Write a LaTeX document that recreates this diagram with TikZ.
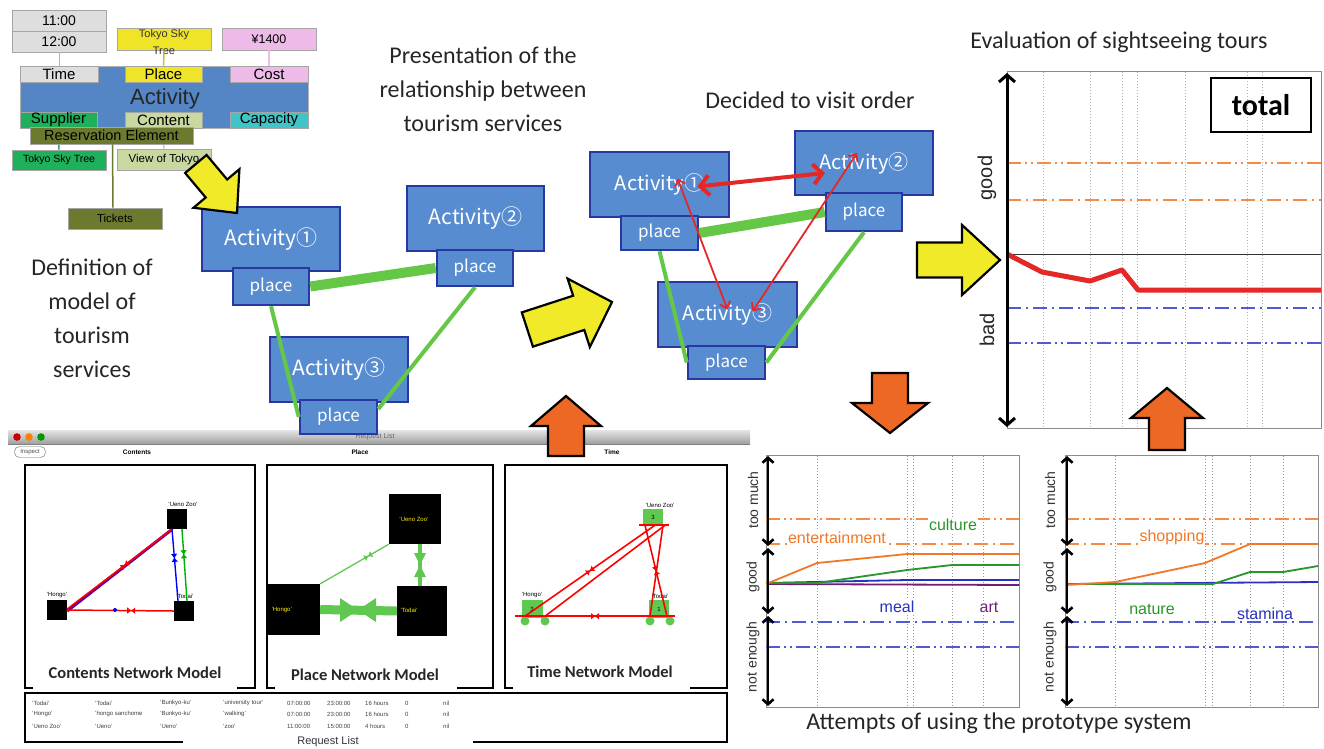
\documentclass[tikz,border=0pt]{standalone}
\usepackage{fontspec}
\setmainfont{Liberation Sans}
\newfontfamily\calfont{Carlito}
\newfontfamily\jpfont{Noto Sans CJK JP}
\usetikzlibrary{arrows.meta,decorations.markings}

\definecolor{actfill}{RGB}{88,140,208}
\definecolor{actborder}{RGB}{40,56,160}
\definecolor{barblue}{RGB}{84,134,198}
\definecolor{lgray}{RGB}{222,222,222}
\definecolor{myyellow}{RGB}{240,228,40}
\definecolor{mypink}{RGB}{238,186,232}
\definecolor{mygreen}{RGB}{30,176,90}
\definecolor{lgreen}{RGB}{200,216,160}
\definecolor{myteal}{RGB}{64,196,200}
\definecolor{myolive}{RGB}{108,122,48}
\definecolor{arrowyellow}{RGB}{240,234,40}
\definecolor{arroworange}{RGB}{236,104,36}
\definecolor{linegreen}{RGB}{100,200,70}
\definecolor{redarr}{RGB}{228,40,40}
\definecolor{corange}{RGB}{240,120,40}
\definecolor{cgreen}{RGB}{40,150,40}
\definecolor{cblue}{RGB}{40,50,190}
\definecolor{cpurple}{RGB}{110,30,120}
\definecolor{ltorange}{RGB}{244,140,70}
\definecolor{ltblue}{RGB}{80,90,210}
\definecolor{tgreen}{RGB}{96,200,80}

\newcommand{\blockarrow}[8]{%
  \begin{scope}[shift={(#1,#2)},rotate=#3]
    \draw[line width=2.2pt,line join=miter,fill=#8]
      (0,0) -- (-#7,#6/2) -- (-#7,#5/2) -- (-#4,#5/2) -- (-#4,-#5/2)
      -- (-#7,-#5/2) -- (-#7,-#6/2) -- cycle;
  \end{scope}}

\tikzset{
  actbox/.style={draw=actborder, fill=actfill, line width=2.5pt, text=white,
    inner sep=0pt, font=\jpfont\fontsize{21}{24}\selectfont},
  placebox/.style={actbox, font=\jpfont\fontsize{17}{20}\selectfont},
  mbox/.style={draw=black!35, line width=0.8pt, inner sep=0pt,
    font=\fontsize{15}{16}\selectfont},
  title/.style={font=\calfont\fontsize{24}{34}\selectfont, align=center, text=black!85},
  glink/.style={linegreen, line width=4pt},
  gthick/.style={linegreen, line width=10pt},
  dashdot/.style={line width=1.3pt, dash pattern=on 14pt off 5pt on 2pt off 5pt},
  dashdotdot/.style={line width=1.3pt, dash pattern=on 14pt off 4pt on 2pt off 4pt on 2pt off 4pt},
  grid/.style={black!40, line width=0.8pt, dash pattern=on 1pt off 2pt},
  axarrow/.style={line width=2.6pt, {Straight Barb[length=5pt,width=11pt]}-{Straight Barb[length=5pt,width=11pt]}},
  clabel/.style={font=\fontsize{16}{18}\selectfont, fill=white, inner sep=1pt},
  axlabel/.style={font=\fontsize{14}{16}\selectfont, rotate=90, text=black!80},
  frame/.style={line width=2.5pt},
  sq/.style={fill=black, inner sep=0pt},
  tiny/.style={font=\fontsize{6}{7}\selectfont},
  netname/.style={font=\calfont\bfseries\fontsize{16.5}{18}\selectfont, text=black!85},
  bowtie/.style={postaction={decorate, decoration={markings,
      mark=at position #1 with {\arrow{Triangle[length=4pt,width=6pt]}},
      mark=at position #1 with {\arrowreversed{Triangle[length=4pt,width=6pt]}}}}}
}

\begin{document}
\begin{tikzpicture}[x=1pt,y=-1pt]
\path[use as bounding box, fill=white] (0,0) rectangle (1324,748);

% ================= screenshot window =================
\fill[white] (8,430) rectangle (750,748);
\shade[top color=black!10, bottom color=black!38] (8,430) rectangle (750,444);
\draw[black!50] (8,444) -- (750,444);
\fill[red!80!black] (17,437) circle (3.8);
\fill[orange] (29,437) circle (3.8);
\fill[green!60!black] (41,437) circle (3.8);
\node[font=\fontsize{7}{8}\selectfont, text=black!60] (wtitle) at (375,437) {Request List};
\node[draw=black!60, rounded corners=5pt, font=\fontsize{6}{7}\selectfont, text=black!70,
  inner sep=1pt, minimum width=31, minimum height=11] (insp) at (30,452) {Inspect};
\node[font=\bfseries\fontsize{6.5}{7}\selectfont] (hc) at (137,452) {Contents};
\node[font=\bfseries\fontsize{6.5}{7}\selectfont] (hp) at (360,452) {Place};
\node[font=\bfseries\fontsize{6.5}{7}\selectfont] (ht) at (612,452) {Time};

% panel frames
\draw[frame] (33,688) -- (25,688) -- (25,465) -- (255,465) -- (255,688) -- (237,688);
\draw[frame] (275,688) -- (267,688) -- (267,465) -- (493,465) -- (493,688) -- (457,688);
\draw[frame] (513,688) -- (505,688) -- (505,465) -- (727,465) -- (727,688) -- (690,688);
\draw[frame] (183,742) -- (25,742) -- (25,693) -- (727,693) -- (727,742) -- (473,742);
\node[font=\fontsize{11}{12}\selectfont, text=black!80] (rlist) at (328,742) {Request List};

% request list rows
\foreach \xx/\tt [count=\c] in {32/'Todai',95/'Todai',160/'Bunkyo-ku',223/'university tour',287/07:00:00,327/23:00:00,365/16 hours,405/0,443/nil}
  \node[tiny, anchor=west, inner sep=0pt, text=black!75] (ra\c) at (\xx,703) {\tt};
\foreach \xx/\tt [count=\c] in {32/'Hongo',95/'hongo sanchome,160/'Bunkyo-ku',223/'walking',287/07:00:00,327/23:00:00,365/16 hours,405/0,443/nil}
  \node[tiny, anchor=west, inner sep=0pt, text=black!75] (rb\c) at (\xx,714) {\tt};
\foreach \xx/\tt [count=\c] in {32/'Ueno Zoo',95/'Ueno',160/'Ueno',223/'zoo',287/11:00:00,327/15:00:00,365/4 hours,405/0,443/nil}
  \node[tiny, anchor=west, inner sep=0pt, text=black!75] (rc\c) at (\xx,726) {\tt};

% contents network
\node[sq, minimum size=20] (cu) at (177,519) {};
\node[sq, minimum size=20] (ch) at (57,610) {};
\node[sq, minimum size=20] (ct) at (184,611) {};
\node[tiny] (cul) at (183,504) {'Ueno Zoo'};
\node[tiny] (chl) at (57,595) {'Hongo'};
\node[tiny] (ctl) at (185,596) {'Todai'};
\draw[blue!60!red, line width=3pt] ([yshift=-1]ch.east) -- ([xshift=-6,yshift=-1]cu.south);
\draw[red, line width=1.5pt, bowtie=0.55] ([yshift=1]ch.east) -- ([xshift=-5]cu.south);
\draw[red, line width=1.5pt, bowtie=0.6] (ch.east) -- (ct.west);
\draw[blue, line width=1.4pt, bowtie=0.4] ([xshift=-5]cu.south) -- ([xshift=-6]ct.north);
\draw[green!70!black, line width=1.4pt, bowtie=0.35] ([xshift=5]cu.south) -- ([xshift=3]ct.north);
\fill[blue] (115,610) circle (2);
\node[netname] (cnm) at (135,673) {Contents Network Model};

% place network
\node[sq, minimum width=52, minimum height=51] (ph) at (294,609.5) {};
\node[sq, minimum width=52, minimum height=50] (pu) at (415,519) {};
\node[sq, minimum width=50, minimum height=50] (pt) at (422,611) {};
\node[tiny, text=yellow, anchor=west] (phl) at (268,610) {'Hongo'};
\node[tiny, text=yellow] (pul) at (414,519) {'Ueno Zoo'};
\node[tiny, text=yellow, anchor=west] (ptl) at (397,610) {'Todai'};
\draw[tgreen, line width=1.3pt, bowtie=0.7] (ph.north east) -- (pu.south west);
\draw[tgreen, line width=9pt] (ph.east) -- (pt.west);
\fill[tgreen] (340,598) -- (358,610) -- (340,622) -- cycle;
\fill[tgreen] (376,598) -- (358,610) -- (376,622) -- cycle;
\draw[tgreen, line width=4pt] ([xshift=5]pu.south) -- ([xshift=-2]pt.north);
\fill[tgreen] (414,553) -- (420,565) -- (426,553) -- cycle;
\fill[tgreen] (414,577) -- (420,565) -- (426,577) -- cycle;
\node[netname] (pnm) at (365,675) {Place Network Model};

% time network
\fill[tgreen] (525,621) circle (4.5); \fill[tgreen] (545,621) circle (4.5);
\fill[tgreen] (650,621) circle (4.5); \fill[tgreen] (670,621) circle (4.5);
\node[fill=tgreen, minimum width=20, minimum height=16, inner sep=0pt, tiny] (tu) at (653,517) {3};
\node[fill=tgreen, minimum width=21, minimum height=18, inner sep=0pt, tiny] (th) at (532,609) {3};
\node[fill=tgreen, minimum width=20, minimum height=18, inner sep=0pt, tiny] (tt) at (659,609) {1};
\node[tiny] (tul) at (660,505) {'Ueno Zoo'};
\node[tiny] (thl) at (532,595) {'Hongo'};
\node[tiny] (ttl) at (660,596) {'Todai'};
\draw[red, line width=1.6pt, bowtie=0.5] ([xshift=-17,yshift=2]th.south) -- ([xshift=16,yshift=2]tt.south);
\draw[red, line width=1.6pt] ([xshift=-14]tu.south) -- ([xshift=16]tu.south);
\draw[red, line width=1.6pt, bowtie=0.5] ([xshift=-7,yshift=2]th.south) -- ([xshift=2]tu.south);
\draw[red, line width=1.6pt] ([xshift=13,yshift=2]th.south) -- ([xshift=12]tu.south);
\draw[red, line width=1.6pt, bowtie=0.5] ([xshift=-8]tu.south) -- ([xshift=8,yshift=2]tt.south);
\draw[red, line width=1.6pt] ([xshift=10]tu.south) -- ([xshift=-9,yshift=2]tt.south);
\node[netname] (tnm) at (600,672) {Time Network Model};

% ================= model of tourism services =================
\node[mbox, fill=lgray, minimum width=94, minimum height=21, font=\fontsize{14}{15}\selectfont] (t11) at (59,20.5) {11:00};
\node[mbox, fill=lgray, minimum width=94, minimum height=21, font=\fontsize{14}{15}\selectfont] (t12) at (59,41.5) {12:00};
\node[mbox, fill=myyellow, minimum width=94, minimum height=22] (sky) at (164,39) {};
\node[font=\fontsize{11}{17}\selectfont, align=center, text=black!80, inner sep=0pt] (skyt) at (164,42) {Tokyo Sky\\Tree};
\node[mbox, fill=mypink, minimum width=94, minimum height=22, font=\fontsize{12.5}{14}\selectfont] (yen) at (269,39) {¥1400};
\node[fill=barblue, draw=black!30, minimum width=288, minimum height=62, inner sep=0pt] (act) at (164,97) {};
\node[font=\fontsize{22}{24}\selectfont, text=black!85] (actt) at (165,99) {Activity};
\node[mbox, fill=lgray, minimum width=78, minimum height=16] (tm) at (59,74) {Time};
\node[mbox, fill=myyellow, minimum width=77, minimum height=16] (pl) at (163.5,74) {Place};
\node[mbox, fill=mypink, minimum width=78, minimum height=16] (cs) at (269,74) {Cost};
\node[mbox, fill=mygreen, minimum width=77, minimum height=16] (sup) at (58.5,120) {Supplier};
\node[mbox, fill=lgreen, minimum width=77, minimum height=16] (cont) at (163.5,120) {Content};
\node[mbox, fill=myteal, minimum width=78, minimum height=16] (cap) at (269,120) {Capacity};
\node[mbox, fill=mygreen, minimum width=94, minimum height=20, font=\fontsize{10.5}{12}\selectfont] (tst) at (59,160) {Tokyo Sky Tree};
\node[mbox, fill=lgreen, minimum width=94, minimum height=21, font=\fontsize{11.5}{12}\selectfont] (vot) at (164,159.5) {View of Tokyo};
\node[mbox, fill=myolive, minimum width=94, minimum height=21, font=\fontsize{11.5}{12}\selectfont] (tk) at (115,218.5) {Tickets};
\draw[black!30, line width=1pt] (t12.south) -- (tm.north);
\draw[myyellow!85!black, line width=1.5pt] (sky.south) -- (pl.north);
\draw[mypink, line width=1.5pt] (yen.south) -- (cs.north);
\draw[mygreen, line width=1.5pt] (sup.south) -- (tst.north);
\draw[lgreen!80!black, line width=1pt] (cont.south) -- (vot.north);
\node[mbox, fill=myolive, minimum width=163, minimum height=17, font=\fontsize{14.5}{15}\selectfont] (res) at (111.5,135.5) {Reservation Element};
\draw[myolive, line width=1.5pt] ([xshift=1]res.south) -- ([xshift=-2]tk.north);

\node[title] (defn) at (92,318) {Definition of\\model of\\tourism\\services};

% ================= relationship (middle) =================
\node[actbox, minimum width=138, minimum height=64] (a1) at (271,239) {Activity①};
\node[placebox, minimum width=76, minimum height=37] (p1) at (271,286.5) {place};
\node[actbox, minimum width=137, minimum height=65] (a2) at (475.5,218.5) {Activity②};
\node[placebox, minimum width=76, minimum height=36] (p2) at (475,268) {place};
\node[actbox, minimum width=138, minimum height=65] (a3) at (339,369.5) {Activity③};
\node[placebox, minimum width=77, minimum height=34] (p3) at (338.5,417) {place};
\draw[gthick] (p1.east) -- (p2.west);
\draw[glink] (p1.south) -- (p3.west);
\draw[glink] (p2.south) -- ([yshift=8]p3.east);

\node[title] (pres) at (483,89) {Presentation of the\\relationship between\\tourism services};

% ================= visit order (right) =================
\node[title] (dec) at (810,100) {Decided to visit order};
\node[actbox, minimum width=139, minimum height=65, font=\jpfont\fontsize{20}{24}\selectfont] (b1) at (659.5,184.5) {Activity①};
\node[placebox, minimum width=77, minimum height=34] (q1) at (659.5,233) {place};
\node[actbox, minimum width=138, minimum height=64, font=\jpfont\fontsize{20}{24}\selectfont] (b2) at (864,163) {Activity②};
\node[placebox, minimum width=76, minimum height=38] (q2) at (864,212) {place};
\node[actbox, minimum width=139, minimum height=65, font=\jpfont\fontsize{20}{24}\selectfont] (b3) at (727.5,314.5) {Activity③};
\node[placebox, minimum width=77, minimum height=33] (q3) at (726.5,362.5) {place};
\draw[gthick] (q1.east) -- (q2.west);
\draw[glink] (q1.south) -- (q3.west);
\draw[glink] (q2.south) -- (q3.east);
\draw[redarr, line width=4pt, {Straight Barb[length=9pt,width=20pt]}-{Straight Barb[length=9pt,width=20pt]}]
  ([xshift=38,yshift=-2]b1.center) -- ([xshift=-39,yshift=-10]b2.center);
\draw[redarr, line width=1.8pt, {Straight Barb[length=6pt,width=11pt]}-{Straight Barb[length=6pt,width=11pt]}]
  ([xshift=18,yshift=6]b1.center) -- ([yshift=5]b3.center);
\draw[redarr, line width=1.8pt, {Straight Barb[length=6pt,width=11pt]}-{Straight Barb[length=6pt,width=11pt]}]
  ([xshift=-7,yshift=10]b2.center) -- ([xshift=25,yshift=3]b3.center);

% ================= evaluation chart =================
\node[title] (evt) at (1119,42) {Evaluation of sightseeing tours};
\draw[black!45, line width=1pt] (1007,71) rectangle (1321,428);
\foreach \x in {1043,1090,1122,1137,1185,1247,1262}
  \draw[grid, black!30] (\x,72) -- (\x,427);
\draw[ltorange, dashdotdot] (1007,163) -- (1321,163);
\draw[ltorange, dashdot] (1007,200) -- (1321,200);
\draw[black!80, line width=1pt] (1007,254) -- (1321,254);
\draw[ltblue, dashdot] (1007,308) -- (1321,308);
\draw[ltblue, dashdotdot] (1007,343) -- (1321,343);
\draw[redarr, line width=5pt, line join=round] (1007,254) -- (1042,272) -- (1090,281) -- (1122,270) -- (1138,290) -- (1321,290);
\draw[line width=3pt, {Straight Barb[length=7pt,width=16pt]}-{Straight Barb[length=7pt,width=16pt]}] (1007,73) -- (1007,427);
\node[font=\fontsize{20}{22}\selectfont, rotate=90, text=black!85] (egood) at (987,178) {good};
\node[font=\fontsize{20}{22}\selectfont, rotate=90, text=black!85] (ebad) at (987,330) {bad};
\node[draw, line width=1.5pt, minimum width=100, minimum height=54, inner sep=0pt,
  font=\calfont\bfseries\fontsize{30}{32}\selectfont] (total) at (1261,105) {total};

% ================= bottom chart 1 =================
\draw[black!45, line width=0.8pt] (766,455) rectangle (1019,707);
\foreach \x in {817,907,913,952,983}
  \draw[grid] (\x,456) -- (\x,706);
\draw[ltorange, dashdotdot] (766,519) -- (1019,519);
\draw[ltorange, dashdot] (766,544) -- (1019,544);
\draw[ltblue, dashdot] (766,622) -- (1019,622);
\draw[ltblue, dashdotdot] (766,647) -- (1019,647);
\node[clabel, text=corange] (ent) at (837,538) {entertainment};
\node[clabel, text=cgreen] (cul) at (953,525) {culture};
\node[clabel, text=cblue] (meal) at (897,607) {meal};
\node[clabel, text=cpurple] (art) at (989,607) {art};
\draw[cpurple, line width=1.8pt] (766,584) -- (1019,585);
\draw[cblue, line width=1.8pt] (766,583) -- (907,580) -- (1019,580);
\draw[cgreen, line width=1.8pt] (766,583) -- (817,583) -- (907,570) -- (952,565) -- (1019,565);
\draw[corange, line width=1.8pt] (766,584) -- (817,563) -- (907,554) -- (1019,554);
\draw[axarrow] (768,456) -- (768,546);
\draw[axarrow] (768,548) -- (768,614);
\draw[axarrow] (768,616) -- (768,706);
\node[axlabel] (tm1) at (753,500) {too much};
\node[axlabel] (gd1) at (753,577) {good};
\node[axlabel] (ne1) at (753,657) {not enough};

% ================= bottom chart 2 =================
\draw[black!45, line width=0.8pt] (1065,455) rectangle (1318,707);
\foreach \x in {1115,1205,1212,1250,1283}
  \draw[grid] (\x,456) -- (\x,706);
\draw[ltorange, dashdotdot] (1065,519) -- (1318,519);
\draw[ltorange, dashdot] (1065,544) -- (1318,544);
\draw[ltblue, dashdot] (1065,622) -- (1318,622);
\draw[ltblue, dashdotdot] (1065,647) -- (1318,647);
\node[clabel, text=corange] (shop) at (1172,537) {shopping};
\node[clabel, text=cgreen] (nat) at (1152,609) {nature};
\node[clabel, text=cblue] (stam) at (1265,614) {stamina};
\draw[cblue, line width=1.8pt] (1066,584) -- (1318,582);
\draw[cgreen, line width=1.8pt] (1066,584) -- (1213,584) -- (1250,572) -- (1283,572) -- (1318,566);
\draw[corange, line width=1.8pt] (1066,585) -- (1115,582) -- (1205,563) -- (1250,544) -- (1318,544);
\draw[axarrow] (1067,456) -- (1067,546);
\draw[axarrow] (1067,548) -- (1067,614);
\draw[axarrow] (1067,616) -- (1067,706);
\node[axlabel] (tm2) at (1050,500) {too much};
\node[axlabel] (gd2) at (1050,577) {good};
\node[axlabel] (ne2) at (1050,657) {not enough};

\node[title] (att) at (999,723) {Attempts of using the prototype system};

% ================= block arrows =================
\blockarrow{237}{213}{-50}{64}{28}{60}{32}{arrowyellow}
\blockarrow{612}{302}{18}{89}{36}{72}{35}{arrowyellow}
\blockarrow{1000}{260}{0}{83}{35}{70}{38}{arrowyellow}
\blockarrow{566}{396}{90}{60}{36}{70}{30}{arroworange}
\blockarrow{890}{433}{-90}{60}{36}{76}{30}{arroworange}
\blockarrow{1167}{388}{90}{62}{36}{72}{30}{arroworange}
\end{tikzpicture}
\end{document}
